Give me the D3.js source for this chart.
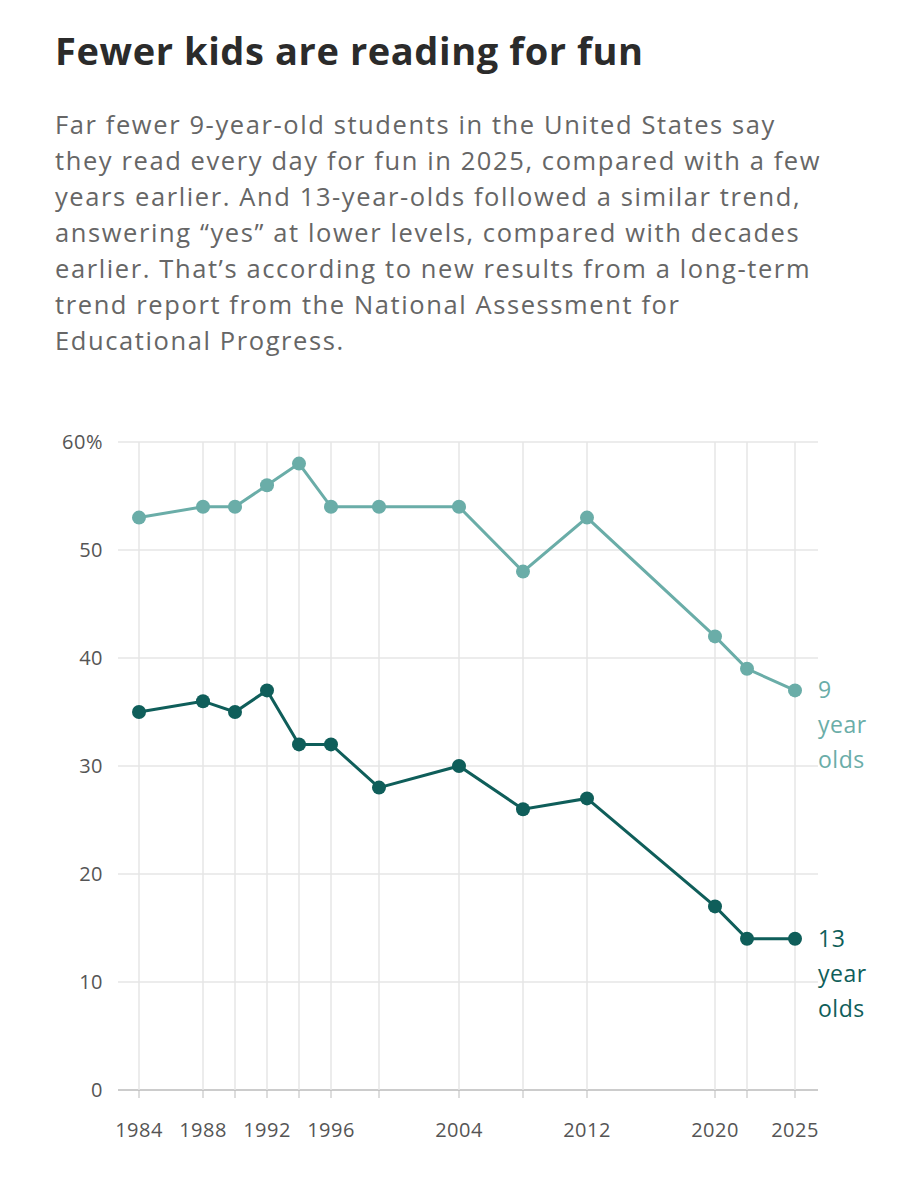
<!DOCTYPE html>
<html><head><meta charset="utf-8">
<script src="https://cdn.jsdelivr.net/npm/d3@7"></script>
<style>body{margin:0;background:#fff;font-family:"Open Sans",sans-serif;}</style>
</head><body><svg id="svg"></svg>
<script>
const width = 923, height = 1200;
const years = [1984, 1988, 1990, 1992, 1994, 1996, 1999, 2004, 2008, 2012, 2020, 2022, 2025];
const tickYears = [1984, 1988, 1992, 1996, 2004, 2012, 2020, 2025];
const nine = [53, 54, 54, 56, 58, 54, 54, 54, 48, 53, 42, 39, 37];
const thirteen = [35, 36, 35, 37, 32, 32, 28, 30, 26, 27, 17, 14, 14];
const yTicks = [0, 10, 20, 30, 40, 50, 60];
const subtitle = [
  "Far fewer 9-year-old students in the United States say",
  "they read every day for fun in 2025, compared with a few",
  "years earlier. And 13-year-olds followed a similar trend,",
  "answering \u201cyes\u201d at lower levels, compared with decades",
  "earlier. That\u2019s according to new results from a long-term",
  "trend report from the National Assessment for",
  "Educational Progress."
];

const svg = d3.select("#svg").attr("width", width).attr("height", height);

svg.append("text").text("Fewer kids are reading for fun")
  .attr("x", 55).attr("y", 65).attr("font-size", 38).attr("letter-spacing", 0.6)
  .attr("font-weight", 700).attr("fill", "#2b2b2b");
svg.append("g").selectAll("text").data(subtitle).enter().append("text")
  .text(d => d).attr("x", 55).attr("y", (d, i) => 134 + i * 36)
  .attr("font-size", 25.5).attr("letter-spacing", 1.6).attr("fill", "#666");

const x = d3.scaleLinear().domain([1984, 2025]).range([139, 795]);
const y = d3.scaleLinear().domain([0, 60]).range([1090, 442]);

// grid
svg.append("g").selectAll("line").data(yTicks).enter().append("line")
  .attr("x1", 118).attr("x2", 818).attr("y1", d => y(d)).attr("y2", d => y(d))
  .attr("stroke", d => d === 0 ? "#bbb" : "#e6e6e6").attr("stroke-width", 1.5);
svg.append("g").selectAll("line").data(years).enter().append("line")
  .attr("x1", d => x(d)).attr("x2", d => x(d)).attr("y1", y(0)).attr("y2", y(0) + 8)
  .attr("stroke", "#bbb");
svg.append("g").selectAll("line").data(years).enter().append("line")
  .attr("x1", d => x(d)).attr("x2", d => x(d)).attr("y1", y(60)).attr("y2", y(0))
  .attr("stroke", "#e6e6e6").attr("stroke-width", 1.5);

svg.append("g").selectAll("text").data(yTicks).enter().append("text")
  .text(d => d === 60 ? "60%" : d).attr("x", 103).attr("y", d => y(d) + 7)
  .attr("text-anchor", "end").attr("font-size", 20).attr("letter-spacing", 0.5).attr("fill", "#555");
svg.append("g").selectAll("text").data(tickYears).enter().append("text")
  .text(d => d).attr("x", d => x(d)).attr("y", 1137)
  .attr("text-anchor", "middle").attr("font-size", 20).attr("letter-spacing", 0.5).attr("fill", "#555");

const series = [
  { values: nine, color: "#6aada8", label: ["9", "year", "olds"] },
  { values: thirteen, color: "#0f5e5a", label: ["13", "year", "olds"] }
];
const line = d3.line().x((d, i) => x(years[i])).y(d => y(d));
series.forEach(s => {
  svg.append("path").datum(s.values).attr("d", line)
    .attr("fill", "none").attr("stroke", s.color).attr("stroke-width", 3);
  svg.append("g").selectAll("circle").data(s.values).enter().append("circle")
    .attr("cx", (d, i) => x(years[i])).attr("cy", d => y(d)).attr("r", 7).attr("fill", s.color);
  const last = s.values[s.values.length - 1];
  svg.append("g").selectAll("text").data(s.label).enter().append("text")
    .text(d => d).attr("x", 818).attr("y", (d, i) => y(last) + 8 + i * 35)
    .attr("font-size", 23).attr("letter-spacing", 0.5).attr("fill", s.color);
});
</script></body></html>
